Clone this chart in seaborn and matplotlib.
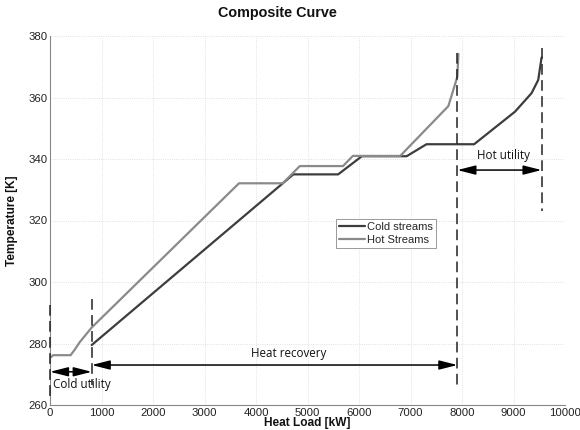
import numpy as np
import pandas as pd
import seaborn as sns
import matplotlib
import matplotlib.pyplot as plt

# Curvas compostas
hot_q = [0, 60, 400, 480, 580, 810, 3670, 4520, 4850, 5690, 5880, 6800, 7735, 7830, 7910, 7930]
hot_t = [275.3, 276.2, 276.2, 278.0, 280.5, 285.2, 332.1, 332.1, 337.7, 337.7, 341.0, 341.0, 357.2, 362.4, 366.8, 374.2]
cold_q = [810, 4725, 5595, 6055, 6925, 7310, 8235, 9030, 9350, 9480, 9545]
cold_t = [279.5, 335.0, 335.0, 340.9, 340.9, 344.8, 344.8, 355.4, 361.4, 365.7, 373.0]

# Linhas tracejadas (posicao Q, T inicial, T final)
dash_q = [0, 810, 7910, 9545]
dash_top = [292.5, 294.5, 374.5, 376.0]
dash_bot = [261.5, 266.5, 265.5, 323.0]

# Setas de utilidades / recuperacao
arrow_names = ["Cold utility", "Heat recovery", "Hot utility"]
arrow_start = [0, 810, 7910]
arrow_end = [810, 7910, 9545]
arrow_t = [270.8, 273.0, 336.4]
label_q = [620, 4635, 8815]
label_t = [266.8, 276.8, 341.0]

hot = pd.DataFrame({'Q': hot_q, 'T': hot_t})
cold = pd.DataFrame({'Q': cold_q, 'T': cold_t})

sns.set_style('whitegrid')
plt.rcParams['font.family'] = ['Liberation Sans', 'DejaVu Sans']
matplotlib.rcParams['font.size'] = 8.2

fig = plt.figure(figsize=(5.8, 4.3), dpi=100, facecolor='white')
ax = fig.add_axes([50/580, 1-405/430, 515/580, 369/430])

sns.lineplot(data=cold, x='Q', y='T', ax=ax, color='#3d3d3d', linewidth=1.6,
             sort=False, estimator=None, label='Cold streams')
sns.lineplot(data=hot, x='Q', y='T', ax=ax, color='#8a8a8a', linewidth=1.6,
             sort=False, estimator=None, label='Hot Streams')

# tracejadas verticais
for q, t0, t1 in zip(dash_q, dash_top, dash_bot):
    ax.plot([q, q], [t0, t1], color='#222222', linewidth=1.1, dashes=(7, 3.5),
            zorder=3, clip_on=False)

# setas com duas pontas
for a, b, t in zip(arrow_start, arrow_end, arrow_t):
    ax.annotate('', xy=(b, t), xytext=(a, t),
                arrowprops=dict(arrowstyle='<|-|>,head_length=1.1,head_width=0.28',
                                mutation_scale=10, color='black', lw=1.1,
                                shrinkA=0, shrinkB=0), zorder=4)
for name, q, t in zip(arrow_names, label_q, label_t):
    ax.text(q, t, name, ha='center', va='center', fontsize=8.4,
            family=['Open Sans', 'DejaVu Sans'], color='#111111')

ax.set_xlim(0, 10000)
ax.set_ylim(260, 380)
ax.set_xticks(np.arange(0, 10001, 1000))
ax.set_yticks(np.arange(260, 381, 20))
ax.tick_params(direction='in', length=3, width=0.6, color='#777777', labelsize=8.2,
               labelcolor='#222222', pad=2)

ax.grid(True, linestyle=':', linewidth=0.6, color='#d8d8d8')
for s in ['top', 'right']:
    ax.spines[s].set_visible(False)
for s in ['left', 'bottom']:
    ax.spines[s].set_color('#888888')
    ax.spines[s].set_linewidth(0.8)

ax.set_xlabel('Heat Load [kW]', fontsize=8.6, fontweight='bold', color='#111111')
ax.set_ylabel('Temperature [K]', fontsize=8.6, fontweight='bold', color='#111111')
ax.xaxis.set_label_coords(0.5, -0.033)
ax.yaxis.set_label_coords(-0.062, 0.5)

fig.text(277/580, 1-13/430, 'Composite Curve', ha='center', va='center',
         fontsize=10.4, fontweight='bold', color='#111111')

leg = ax.legend(loc='upper left', bbox_to_anchor=(0.555, 0.504), fontsize=8,
                frameon=True, fancybox=False, edgecolor='#999999', framealpha=1,
                borderaxespad=0, handlelength=2.3, handletextpad=0.2,
                labelspacing=0.25, borderpad=0.3)
leg.get_frame().set_linewidth(0.7)

plt.savefig('out.png', dpi=100)
